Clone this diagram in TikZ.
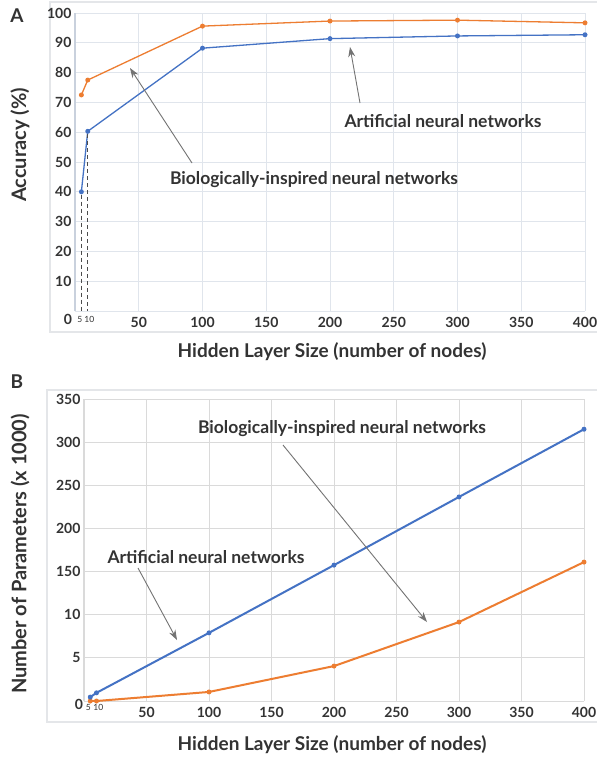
\documentclass[tikz,border=0pt]{standalone}
\usepackage{fontspec}
\setmainfont{Lato}
\usetikzlibrary{positioning}
\usetikzlibrary{arrows.meta}
\usetikzlibrary{calc}
\definecolor{annblue}{HTML}{4472C4}
\definecolor{bioorange}{HTML}{ED7D31}
\definecolor{inktext}{HTML}{333333}
\definecolor{gridA}{HTML}{E0E5EC}
\definecolor{axisA}{HTML}{C9D1DD}
\definecolor{gridB}{HTML}{DADADA}
\definecolor{frameline}{HTML}{E4E6E9}
\tikzstyle{dot}=[circle,inner sep=0pt,minimum size=5pt]
\tikzstyle{tick}=[text=inktext,font=\bfseries\fontsize{14}{16}\selectfont]
\tikzstyle{smalltick}=[text=inktext,font=\fontsize{8.5}{10}\selectfont,inner sep=0.5pt]
\tikzstyle{callout}=[text=inktext,font=\bfseries\fontsize{17.5}{20}\selectfont]
\tikzstyle{axistitle}=[text=inktext,font=\bfseries\fontsize{19}{22}\selectfont]
\tikzstyle{ytitle}=[text=inktext,font=\bfseries\fontsize{20}{23}\selectfont,rotate=90]
\tikzstyle{panel}=[text=inktext,font=\bfseries\fontsize{19}{21}\selectfont]
\tikzstyle{pointer}=[draw,color=black!55,line width=0.9pt,-{Stealth[length=10pt,width=7pt]}]
\tikzstyle{guide}=[draw,color=black!70,line width=0.9pt,dash pattern=on 4pt off 3pt]

\begin{document}
\begin{tikzpicture}[x=1pt,y=-1pt]
  \useasboundingbox[fill=white] (0,0) rectangle (597,758);

  % ---------------- panel A ----------------
  \draw[frameline,line width=1.5pt] (597,2) -- (50,2) -- (50,332) -- (597,332);
  \node[panel] (labelA) at (17,16) {A};

  \begin{scope}[shift={(75,311)},x=1.275pt,y=2.98pt]
    \foreach \x in {50,100,...,400}
        \draw[gridA,line width=1pt] (\x,0) -- (\x,100);
    \foreach \y in {0,10,...,100}
        \draw[gridA,line width=1pt] (0,\y) -- (400,\y);
    \draw[axisA,line width=2pt] (0,0) -- (0,100);

    \foreach \y in {10,20,...,100}
        \node[tick,anchor=east] (yA\y) at (0,\y) {\y};
    \node[tick,anchor=east] (yA0) at (0.5,-2.7) {0};
    \foreach \x in {50,100,...,400}
        \node[tick] (xA\x) at (\x,-3.8) {\x};
    \node[smalltick] (xA5) at (3.8,-2.7) {5};
    \node[smalltick] (xA10) at (11.3,-2.7) {10};

    % data: biologically-inspired (orange) and artificial (blue)
    \foreach \x/\y in {5/72.5, 10/77.5, 100/95.6, 200/97.3, 300/97.6, 400/96.7}
        \node[dot,fill=bioorange] (bA\x) at (\x,\y) {};
    \foreach \x/\y in {5/40, 10/60.3, 100/88.2, 200/91.4, 300/92.3, 400/92.7}
        \node[dot,fill=annblue] (nA\x) at (\x,\y) {};
    \foreach \source/\dest in {5/10, 10/100, 100/200, 200/300, 300/400}
        \draw[bioorange,line width=1.3pt] (bA\source.center) -- (bA\dest.center);
    \foreach \source/\dest in {5/10, 10/100, 100/200, 200/300, 300/400}
        \draw[annblue,line width=1.3pt] (nA\source.center) -- (nA\dest.center);

    \coordinate (baseA5) at (5,0);
    \coordinate (baseA10) at (10,0);
    \path[guide] (nA5.south) -- (baseA5);
    \path[guide] (nA10.south) -- (baseA10);
  \end{scope}

  \node[ytitle] (ytitleA) at (20,145) {Accuracy (\%)};
  \node[axistitle] (xtitleA) at (332,352) {Hidden Layer Size (number of nodes)};

  \node[callout] (bioA) at (314,180) {Biologically-inspired neural networks};
  \node[callout] (annA) at (443,121) {Artificial neural networks};
  \coordinate (bioAtip) at (130,68);
  \coordinate (annAtip) at (350,47);
  \path[pointer] ([xshift=-122pt,yshift=17pt]bioA.center) -- (bioAtip);
  \path[pointer] ([xshift=-83pt,yshift=18pt]annA.center) -- (annAtip);

  % ---------------- panel B ----------------
  \draw[frameline,line width=1.5pt] (597,390) -- (47,390) -- (47,722) -- (597,722);
  \node[panel] (labelB) at (17,382) {B};

  \begin{scope}[shift={(84,701)},x=1.25pt,y=43.14pt]
    \foreach \x in {50,100,...,400}
        \draw[gridB,line width=1pt] (\x,0) -- (\x,7);
    \foreach \y in {0,1,...,7}
        \draw[gridB,line width=1pt] (0,\y) -- (400,\y);
    \draw[gridB,line width=1.5pt] (0,0) -- (0,7);

    \foreach \y/\val in {1/5, 2/10, 3/150, 4/200, 5/250, 6/300, 7/350}
        \node[tick,anchor=east] (yB\val) at (0,\y) {\val};
    \node[tick,anchor=east] (yB0) at (2,-0.09) {0};
    \foreach \x in {50,100,...,400}
        \node[tick] (xB\x) at (\x,-0.26) {\x};
    \node[smalltick] (xB5) at (3.5,-0.16) {5};
    \node[smalltick] (xB10) at (11.5,-0.16) {10};

    \foreach \x/\y in {5/0, 10/0, 100/0.21, 200/0.81, 300/1.83, 400/3.22}
        \node[dot,fill=bioorange] (bB\x) at (\x,\y) {};
    \foreach \x/\y in {5/0.09, 10/0.19, 100/1.58, 200/3.15, 300/4.73, 400/6.3}
        \node[dot,fill=annblue] (nB\x) at (\x,\y) {};
    \foreach \source/\dest in {5/10, 10/100, 100/200, 200/300, 300/400}
        \draw[bioorange,line width=2pt] (bB\source.center) -- (bB\dest.center);
    \foreach \source/\dest in {5/10, 10/100, 100/200, 200/300, 300/400}
        \draw[annblue,line width=2pt] (nB\source.center) -- (nB\dest.center);
  \end{scope}

  \node[ytitle] (ytitleB) at (20,554) {Number of Parameters (x 1000)};
  \node[axistitle] (xtitleB) at (332,745) {Hidden Layer Size (number of nodes)};

  \node[callout] (bioB) at (342,429) {Biologically-inspired neural networks};
  \node[callout] (annB) at (206,557) {Artificial neural networks};
  \coordinate (bioBtip) at (427,622);
  \coordinate (annBtip) at (177,640);
  \path[pointer] ([xshift=-59pt,yshift=-16pt]bioB.center) -- (bioBtip);
  \path[pointer] ([xshift=-68pt,yshift=-11pt]annB.center) -- (annBtip);
\end{tikzpicture}
\end{document}
